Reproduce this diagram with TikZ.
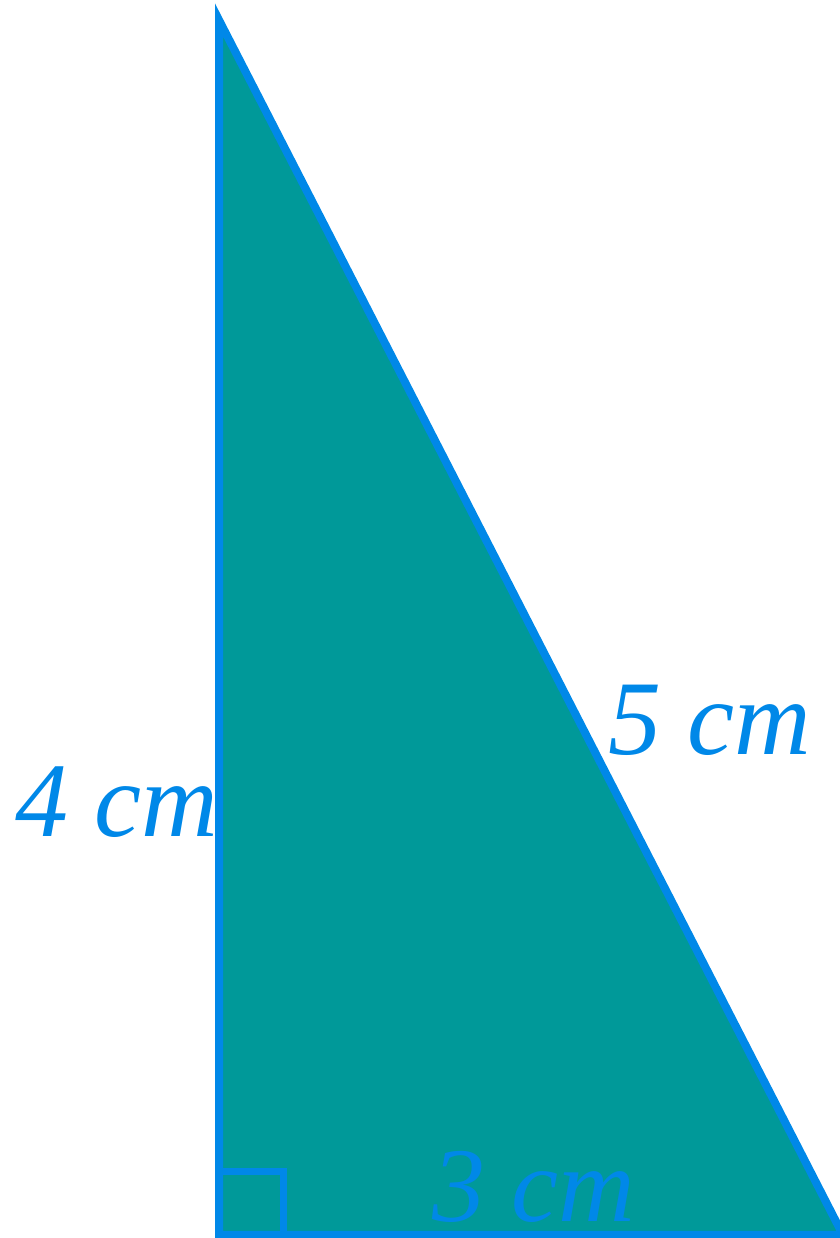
\documentclass[tikz,border=0pt]{standalone}
\usepackage{fontspec}
\setmainfont{Liberation Serif}
\usepackage{tikz}
\usetikzlibrary{positioning}
\definecolor{triteal}{HTML}{009999}
\definecolor{triblue}{HTML}{0088E8}

\begin{document}
\begin{tikzpicture}[
    x=0.5pt, y=0.5pt,
    side/.style={draw=triblue, line width=4pt, line join=miter},
    len/.style={text=triblue, inner sep=0pt, anchor=base west,
                font=\fontsize{53}{60}\selectfont\itshape},
]
    \useasboundingbox (0,0) rectangle (840,1238);
    \clip (0,0) rectangle (840,1238);

    \coordinate (top) at (219, 1218);
    \coordinate (corner) at (219, 3);
    \coordinate (right) at (843, 3);

    \fill[triteal] (top) -- (corner) -- (right) -- cycle;

    \node[len] (ab) at (15, 401) {4 cm};
    \node[len] (ac) at (608, 483) {5 cm};
    \node[len] (bc) at (432, 17) {3 cm};

    \draw[side] (top) -- (corner) -- (right) -- cycle;

    % right angle mark
    \draw[side, line width=3.5pt] (219, 66) -- (283, 66) -- (283, 3);
\end{tikzpicture}
\end{document}
